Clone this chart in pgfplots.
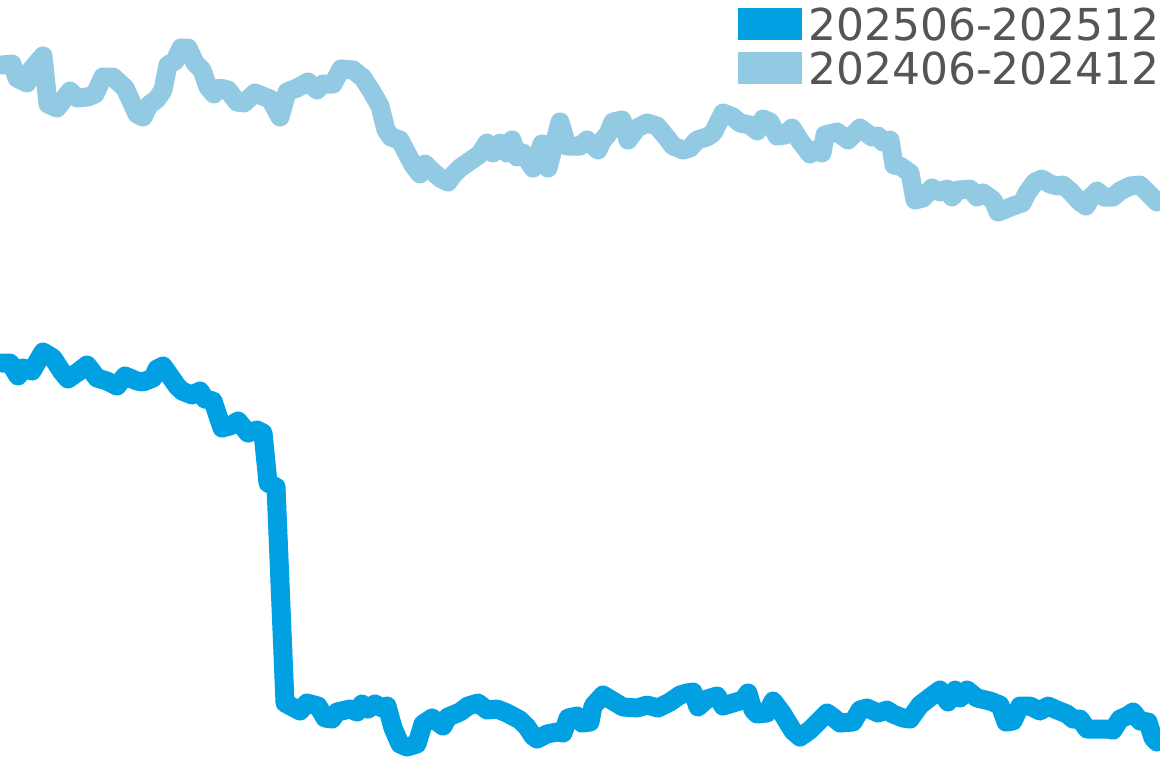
\documentclass[border=0pt]{standalone}
\usepackage{pgfplots}
\pgfplotsset{compat=1.18}
\usepackage{fontspec}
\setmainfont{DejaVu Sans}
\definecolor{darkb}{RGB}{0,160,227}
\definecolor{lightb}{RGB}{146,201,227}
\definecolor{txt}{RGB}{85,85,85}
\begin{document}
\begin{tikzpicture}
\useasboundingbox (0,0) rectangle (580pt,384pt);
\begin{axis}[
  at={(0,0)}, anchor=south west,
  scale only axis, width=580pt, height=384pt,
  xmin=0, xmax=1160, ymin=0, ymax=768, y dir=reverse,
  hide axis, clip=true,
  legend cell align=left,
  legend image code/.code={\fill[#1, draw=none] (0pt,-8pt) rectangle (32pt,8pt);},
  legend style={at={(1,1)}, anchor=north east, yshift=-1pt, draw=none, fill=none,
    font=\fontsize{22}{22}\selectfont, text=txt, inner sep=0pt, outer sep=0pt,
    row sep=0pt, nodes={inner sep=0pt, text height=19pt, text depth=3pt},
    /tikz/every odd column/.append style={column sep=3pt}},
]
\addplot[darkb, line width=9.5pt, line join=round, line cap=round] table {
x y
2 363
10 363
18 376
23 368
32 371
43 352
53 358
62 372
68 379
78 372
87 365
97 378
107 381
117 386
125 376
137 381
143 382
153 378
157 369
163 366
177 386
182 391
192 395
200 391
205 399
213 401
222 428
230 426
238 421
248 433
257 430
263 433
268 483
276 487
285 703
300 711
307 703
318 706
325 718
332 719
337 712
350 709
357 712
362 704
368 709
375 704
382 708
387 706
393 728
400 744
407 747
417 744
423 724
432 718
443 726
448 717
460 712
468 706
478 703
487 710
497 709
507 713
520 720
527 727
533 736
537 739
547 734
557 732
563 733
568 718
577 716
582 723
590 722
593 706
603 695
613 701
623 707
637 708
647 705
658 708
670 702
680 695
687 693
693 692
698 707
707 699
717 696
723 706
733 703
743 700
748 693
753 710
757 714
767 713
773 701
782 713
793 731
800 737
810 730
827 713
834 718
840 723
853 722
860 710
867 708
878 713
887 710
893 714
903 718
910 719
920 705
933 695
940 690
948 702
955 690
960 698
967 690
977 698
990 701
1000 705
1006 722
1013 721
1020 706
1030 706
1040 711
1048 706
1057 710
1067 714
1073 719
1080 719
1087 729
1098 729
1107 729
1113 730
1120 719
1127 716
1133 712
1140 721
1148 722
1153 738
1157 742
};
\addlegendentry{202506-202512}
\addplot[lightb, line width=9.5pt, line join=round, line cap=round] table {
x y
2 65
12 64
17 78
27 83
31 70
43 56
48 104
57 108
70 91
77 98
88 97
95 94
103 77
113 77
125 88
137 114
143 117
149 105
157 99
163 90
168 65
175 61
181 48
188 48
195 63
202 70
208 87
214 94
220 88
228 90
237 102
244 103
255 93
270 99
280 117
287 92
297 88
308 82
317 90
323 84
333 84
341 69
353 70
363 78
372 92
380 106
386 130
391 137
400 140
413 165
420 174
425 164
431 170
440 178
448 182
453 175
460 168
470 161
480 154
487 143
493 153
500 143
507 153
512 140
517 157
523 153
533 168
542 144
548 168
560 122
567 146
580 146
587 140
598 150
602 141
608 134
613 122
622 120
628 140
637 128
647 123
657 126
667 138
673 146
683 150
690 148
697 140
707 137
713 133
723 113
733 117
740 123
750 125
757 131
763 119
770 122
777 136
785 135
792 128
800 141
810 154
815 150
822 153
825 135
837 132
848 140
860 128
872 137
878 136
883 142
890 140
894 165
900 166
910 173
915 200
923 198
932 188
940 192
947 189
952 197
958 190
970 189
977 197
983 193
993 200
998 212
1013 206
1022 203
1027 193
1035 182
1042 179
1050 184
1057 186
1063 185
1070 191
1080 202
1086 206
1091 197
1097 191
1104 197
1113 197
1120 191
1130 186
1140 185
1147 192
1157 202
};
\addlegendentry{202406-202412}
\end{axis}
\end{tikzpicture}
\end{document}
